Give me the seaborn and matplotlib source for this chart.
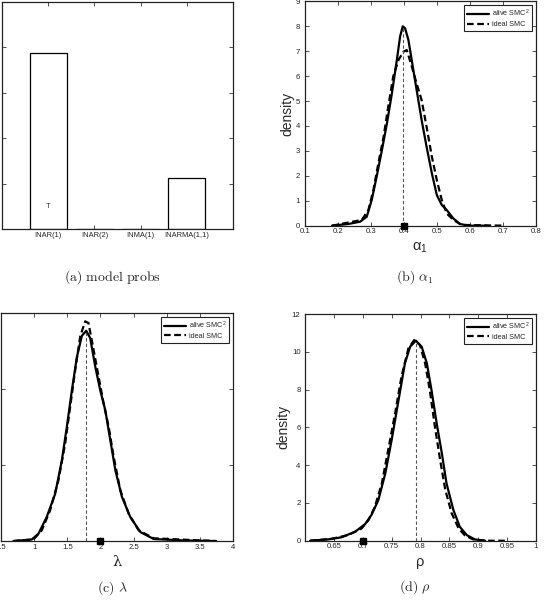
import numpy as np
import pandas as pd
import matplotlib
matplotlib.use('Agg')
import matplotlib.pyplot as plt
import seaborn as sns
from matplotlib.ticker import FuncFormatter, NullFormatter

# (a) posterior model probabilities
models = ['INAR(1)', 'INAR(2)', 'INMA(1)', 'INARMA(1,1)']
model_probs = [0.776, 0.0, 0.0, 0.224]

# (b) alpha_1
alpha_true = 0.40
alpha_alive_x = [0.183, 0.233, 0.268, 0.288, 0.303, 0.318, 0.334, 0.349, 0.364, 0.379, 0.389,
                 0.397, 0.404, 0.414, 0.424, 0.439, 0.454, 0.469, 0.485, 0.500, 0.515, 0.530,
                 0.550, 0.570, 0.595, 0.650]
alpha_alive_y = [0.0, 0.07, 0.16, 0.36, 1.03, 1.97, 3.04, 4.10, 5.30, 6.65, 7.60,
                 8.00, 7.92, 7.45, 6.65, 5.44, 4.24, 3.17, 2.10, 1.23, 0.83, 0.63,
                 0.29, 0.07, 0.0, 0.0]
alpha_ideal_x = [0.183, 0.273, 0.293, 0.308, 0.323, 0.339, 0.353, 0.368, 0.384, 0.399, 0.409,
                 0.424, 0.439, 0.454, 0.469, 0.485, 0.500, 0.515, 0.530, 0.550, 0.575, 0.706]
alpha_ideal_y = [0.0, 0.23, 0.63, 1.43, 2.50, 3.57, 4.78, 5.98, 6.65, 6.98, 7.05,
                 6.40, 5.70, 5.04, 3.97, 2.77, 1.83, 1.03, 0.49, 0.23, 0.03, 0.0]

# (c) lambda
lam_true = 2.0
lam_alive_x = [0.687, 0.964, 1.065, 1.19, 1.317, 1.418, 1.493, 1.569, 1.645, 1.72, 1.786,
               1.846, 1.922, 1.998, 2.073, 2.149, 2.225, 2.325, 2.45, 2.603, 2.805, 3.26, 3.71]
lam_alive_y = [0.0, 0.01, 0.048, 0.158, 0.31, 0.53, 0.75, 0.99, 1.21, 1.35, 1.383,
               1.335, 1.148, 0.99, 0.862, 0.664, 0.466, 0.29, 0.158, 0.059, 0.013, 0.004, 0.0]
lam_ideal_x = [0.687, 0.99, 1.115, 1.24, 1.367, 1.468, 1.543, 1.62, 1.695, 1.77, 1.82,
               1.897, 1.972, 2.048, 2.124, 2.2, 2.3, 2.426, 2.577, 2.805, 3.51, 3.76]
lam_ideal_y = [0.0, 0.01, 0.07, 0.2, 0.4, 0.64, 0.88, 1.126, 1.346, 1.445, 1.434,
               1.258, 1.082, 0.906, 0.752, 0.554, 0.334, 0.18, 0.07, 0.018, 0.004, 0.0]

# (d) rho
rho_true = 0.70
rho_alive_x = [0.609, 0.640, 0.663, 0.687, 0.704, 0.715, 0.727, 0.739, 0.750, 0.762, 0.773,
               0.782, 0.792, 0.802, 0.811, 0.819, 0.828, 0.837, 0.845, 0.857, 0.868, 0.880,
               0.894, 0.912]
rho_alive_y = [0.0, 0.07, 0.18, 0.48, 0.88, 1.36, 2.15, 3.56, 5.33, 7.45, 9.39,
               10.27, 10.59, 10.27, 9.39, 7.98, 6.21, 4.62, 3.04, 1.62, 0.74, 0.30,
               0.07, 0.0]
rho_ideal_x = [0.609, 0.646, 0.675, 0.698, 0.710, 0.721, 0.733, 0.744, 0.756, 0.767, 0.779,
               0.789, 0.799, 0.808, 0.816, 0.825, 0.834, 0.843, 0.854, 0.866, 0.877, 0.891,
               0.912, 0.946]
rho_ideal_y = [0.0, 0.10, 0.30, 0.65, 1.09, 1.80, 3.03, 4.80, 6.74, 8.68, 10.18,
               10.62, 10.36, 9.39, 7.98, 6.03, 4.27, 2.68, 1.45, 0.65, 0.28, 0.07,
               0.0, 0.0]

sns.set_style('ticks')
plt.rcParams['font.family'] = ['Liberation Sans', 'DejaVu Sans']
plt.rcParams['mathtext.fontset'] = 'cm'
plt.rcParams['xtick.direction'] = 'in'
plt.rcParams['ytick.direction'] = 'in'
plt.rcParams['xtick.top'] = True
plt.rcParams['ytick.right'] = True
plt.rcParams['axes.linewidth'] = 0.9
plt.rcParams['axes.edgecolor'] = '#222222'
plt.rcParams['lines.solid_joinstyle'] = 'round'
plt.rcParams['lines.dash_joinstyle'] = 'round'

fig = plt.figure(figsize=(5.44, 6.01), dpi=100)
ax_a = fig.add_axes([0.0037, 0.619, 0.4246, 0.3777])
ax_b = fig.add_axes([0.560, 0.6245, 0.4252, 0.3732])
ax_c = fig.add_axes([0.0018, 0.0998, 0.4265, 0.3794])
ax_d = fig.add_axes([0.5607, 0.1003, 0.4246, 0.3772])

g = FuncFormatter(lambda v, p: '%g' % round(v, 4))


def style_ticks(ax):
    ax.tick_params(which='both', length=3, width=0.6, pad=2, labelsize=5.6,
                   labelcolor='#262626', color='#333333')
    ax.tick_params(axis='y', pad=3.2)
    for s in ax.spines.values():
        s.set_visible(True)


# (a)
sns.barplot(x=models, y=model_probs, color='white', edgecolor='black', linewidth=0.9,
            width=0.8, saturation=1, ax=ax_a)
ax_a.set_xlim(-1, 4)
ax_a.set_ylim(0, 1)
ax_a.set_yticks(np.arange(0, 1.01, 0.2))
ax_a.yaxis.set_major_formatter(NullFormatter())
style_ticks(ax_a)
ax_a.tick_params(axis='x', labelsize=5.4)
ax_a.text(0, 0.1, 'T', fontsize=5.4, ha='center', va='center', color='#333333')


def density_panel(ax, ax_x, ay, ix, iy, true_val, xlim, ylim, xticks, yticks):
    sns.lineplot(x=ax_x, y=ay, color='black', lw=1.6, ax=ax, sort=False,
                 label=r'alive SMC$^\mathregular{2}$')
    sns.lineplot(x=ix, y=iy, color='black', lw=1.6, ax=ax, sort=False,
                 linestyle=(0, (3, 1.6)), label='ideal SMC')
    peak = int(np.argmax(ay))
    ax.vlines(ax_x[peak], 0, ay[peak], colors='#555555', linestyles=(0, (3, 2)), lw=0.8)
    ax.plot([true_val], [0], marker='s', color='black', ms=4, clip_on=False, zorder=5)
    ax.set_xlim(*xlim)
    ax.set_ylim(*ylim)
    ax.set_xticks(xticks)
    ax.set_yticks(yticks)
    ax.xaxis.set_major_formatter(g)
    ax.yaxis.set_major_formatter(g)
    style_ticks(ax)
    leg = ax.legend(loc='upper right', fontsize=5.2, handlelength=3.0, handletextpad=0.4,
                    borderpad=0.4, labelspacing=0.3, borderaxespad=0.5, fancybox=False,
                    framealpha=1, edgecolor='#222222')
    leg.get_frame().set_linewidth(0.8)


density_panel(ax_b, alpha_alive_x, alpha_alive_y, alpha_ideal_x, alpha_ideal_y, alpha_true,
              (0.1, 0.8), (0, 9), np.arange(0.1, 0.81, 0.1), np.arange(0, 10, 1))
ax_b.set_xlabel(r'$\mathregular{\alpha_1}$', fontsize=10.5, labelpad=4)
ax_b.set_ylabel('density', fontsize=10, labelpad=1)

density_panel(ax_c, lam_alive_x, lam_alive_y, lam_ideal_x, lam_ideal_y, lam_true,
              (0.5, 4), (0, 1.5), np.arange(0.5, 4.01, 0.5), np.arange(0, 1.51, 0.5))
ax_c.yaxis.set_major_formatter(NullFormatter())
ax_c.set_xlabel('λ', fontsize=10.5, labelpad=3, family='DejaVu Serif')
ax_c.set_ylabel('')

density_panel(ax_d, rho_alive_x, rho_alive_y, rho_ideal_x, rho_ideal_y, rho_true,
              (0.6, 1.0), (0, 12), np.arange(0.65, 1.001, 0.05), np.arange(0, 13, 2))
ax_d.set_xlabel('ρ', fontsize=10.5, labelpad=3)
ax_d.set_ylabel('density', fontsize=10, labelpad=1)

fig.text(0.206, 0.539, r'$\mathrm{(a)\ model\ probs}$', ha='center', va='center', fontsize=10)
fig.text(0.763, 0.539, r'$\mathrm{(b)}\ \alpha_1$', ha='center', va='center', fontsize=10)
fig.text(0.206, 0.022, r'$\mathrm{(c)}\ \lambda$', ha='center', va='center', fontsize=10)
fig.text(0.763, 0.023, r'$\mathrm{(d)}\ \rho$', ha='center', va='center', fontsize=10)

fig.savefig('out.png', dpi=100)
